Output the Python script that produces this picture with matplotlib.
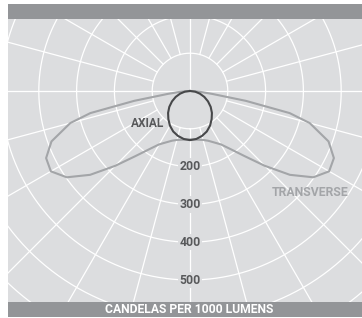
import numpy as np
import matplotlib
matplotlib.use("Agg")
import matplotlib.pyplot as plt
from matplotlib.patches import Rectangle

# ── data (candelas per 1000 lumens, angle from nadir, one half; mirrored) ──
axial_angles = [0, 7.5, 15, 22.5, 30, 37.5, 45, 52.5, 60, 67.5, 75, 82.5, 90]
axial_cd     = [130, 128, 123, 116, 106, 94, 82, 69, 55, 41, 27, 14, 0]

trans_angles = [0, 5, 10, 15, 20, 25, 30, 35, 40, 45, 50, 55, 60, 65, 70,
                75, 77.5, 80, 82.5, 85, 87.5, 90]
trans_cd     = [128, 129, 131, 134, 140, 150, 163, 188, 225, 280, 345, 398,
                425, 420, 390, 328, 270, 150, 60, 28, 10, 0]

ring_values  = [100, 200, 300, 400, 500, 600, 700, 800]
ring_labels  = [200, 300, 400, 500]
radial_steps = list(range(0, 360, 15))

# ── style ─────────────────────────────────────────────────────────────────
BG     = "#dcdddf"
BAND   = "#939598"
DARK   = "#58595b"
LIGHT  = "#a3a5a8"
W, H   = 362, 318
PX_PER_CD = 0.378
RMAX   = 800
CX, CY = 190, 91           # polar centre in pixels (from top-left)

plt.rcParams["font.family"] = ["Roboto", "DejaVu Sans"]

fig = plt.figure(figsize=(W / 100, H / 100), dpi=100)
fig.patch.set_facecolor("white")

R = RMAX * PX_PER_CD
ax = fig.add_axes([(CX - R) / W, (H - CY - R) / H, 2 * R / W, 2 * R / H],
                  projection="polar")
ax.set_theta_zero_location("S")
ax.set_rlim(0, RMAX)
ax.set_facecolor(BG)
ax.set_xticks([]); ax.set_yticks([])
ax.grid(False)
ax.spines["polar"].set_visible(False)

# grid
th = np.linspace(0, 2 * np.pi, 721)
for r in ring_values:
    ax.plot(th, np.full_like(th, r), color="white", lw=0.9, zorder=1)
for a in radial_steps:
    r0 = 0 if a in (90, 180, 270) else 100
    ax.plot([np.radians(a)] * 2, [r0, RMAX], color="white", lw=0.9, zorder=1)

def mirror(angles, vals):
    a = np.radians(np.array(angles, dtype=float))
    v = np.array(vals, dtype=float)
    return np.concatenate([-a[::-1], a[1:]]), np.concatenate([v[::-1], v[1:]])

t, v = mirror(trans_angles, trans_cd)
ax.plot(t, v, color=LIGHT, lw=1.5, zorder=3, solid_joinstyle="round")
t, v = mirror(axial_angles, axial_cd)
ax.plot(t, v, color="#47484a", lw=1.5, zorder=4)

for val in ring_labels:
    ax.text(0, val, str(val), ha="center", va="center", fontsize=8.8,
            fontweight="bold", color=DARK, zorder=5,
            bbox=dict(facecolor=BG, edgecolor="none", pad=1.2))

ax.text(np.radians(-52.5), 143, "AXIAL", ha="center", va="center",
        fontsize=8.6, fontweight="bold", color=DARK, zorder=5)
ax.text(np.radians(50), 416, "TRANSVERSE", ha="center", va="center",
        fontsize=8.8, fontweight="bold", color=LIGHT, zorder=5)

# margins and bands (pixel boxes)
def px_rect(x0, y0, x1, y1, color):
    fig.add_artist(Rectangle((x0 / W, 1 - y1 / H), (x1 - x0) / W, (y1 - y0) / H,
                             transform=fig.transFigure, facecolor=color,
                             edgecolor="none", zorder=10))

px_rect(0, 0, 7.5, H, "white")
px_rect(0, 0, W, 4, "white")
px_rect(0, 316.5, W, H, "white")
px_rect(7.5, 4, W, 18.5, BAND)
px_rect(7.5, 302, W, 316.5, BAND)

fig.text(189 / W, 1 - 309.5 / H, "CANDELAS PER 1000 LUMENS", ha="center",
         va="center", fontsize=8.7, fontweight="bold", color="white", zorder=11)

fig.savefig("out.png", dpi=100)
